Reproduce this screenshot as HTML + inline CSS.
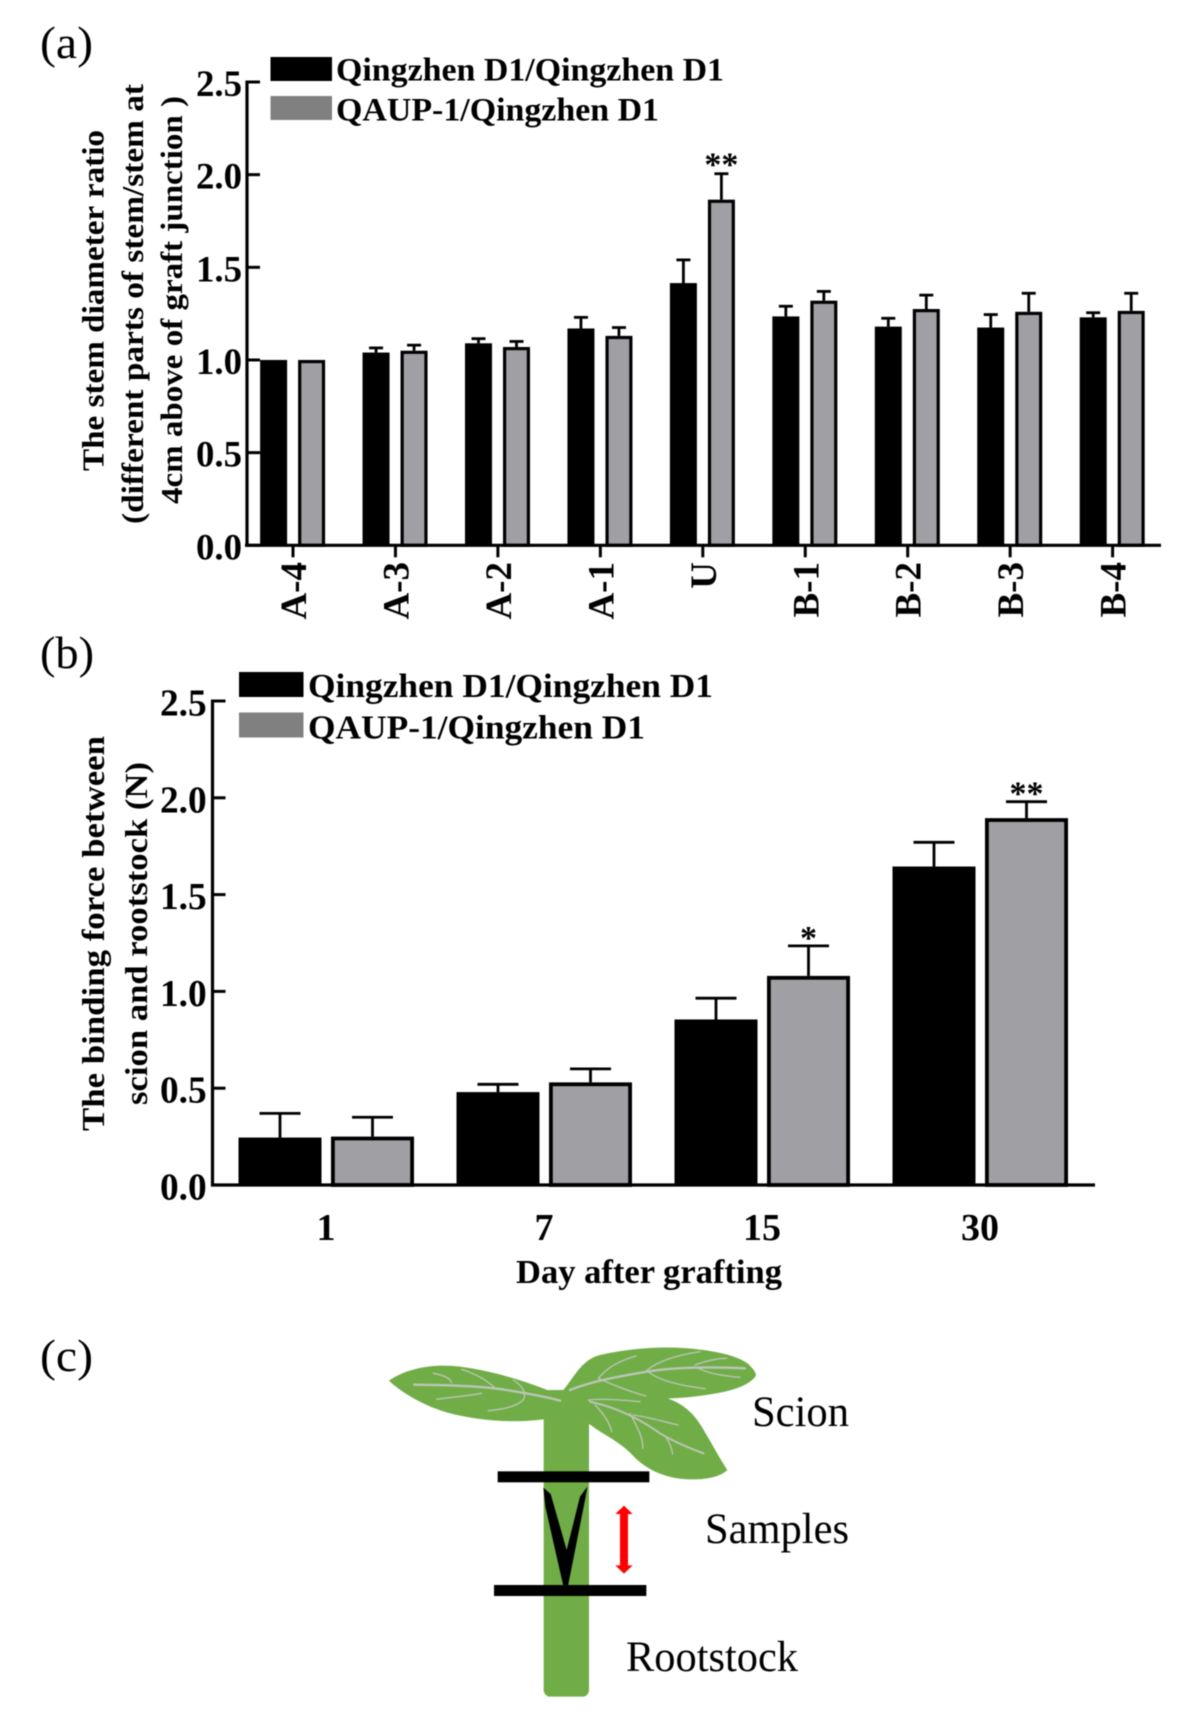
<!DOCTYPE html>
<html lang="en">
<head>
<meta charset="utf-8">
<title>Stem diameter ratio and binding force after grafting</title>
<style>
  html, body { margin: 0; padding: 0; background: #fff; }
  body { width: 1183px; height: 1733px; overflow: hidden; }
  svg { display: block; filter: blur(0.6px); }
  text { font-family: "Liberation Serif", serif; fill: #000; }
  .b { font-weight: bold; }
</style>
</head>
<body>
<svg id="figure" xmlns="http://www.w3.org/2000/svg" width="1183" height="1733" viewBox="0 0 1183 1733">
  <rect x="0" y="0" width="1183" height="1733" fill="#fff"/>

  <g id="panel-a">
    <text x="40" y="58" font-size="46" textLength="53" lengthAdjust="spacingAndGlyphs">(a)</text>
    <rect x="270.5" y="57" width="61.5" height="24" fill="#000"/>
    <rect x="270.5" y="96" width="61.5" height="24" fill="#808080"/>
    <text class="b" x="336" y="80.5" font-size="33" textLength="388" lengthAdjust="spacingAndGlyphs">Qingzhen D1/Qingzhen D1</text>
    <text class="b" x="336" y="120.5" font-size="33" textLength="323" lengthAdjust="spacingAndGlyphs">QAUP-1/Qingzhen D1</text>
    <text class="b" transform="translate(103.5,471) rotate(-90)" font-size="31" textLength="341" lengthAdjust="spacingAndGlyphs">The stem diameter ratio</text>
    <text class="b" transform="translate(143,524) rotate(-90)" font-size="31" textLength="440" lengthAdjust="spacingAndGlyphs">(different parts of stem/stem at</text>
    <text class="b" transform="translate(182,504) rotate(-90)" font-size="31" textLength="408" lengthAdjust="spacingAndGlyphs">4cm above of graft junction )</text>
  </g>

  <g id="panel-b">
    <text x="40" y="668" font-size="46" textLength="54" lengthAdjust="spacingAndGlyphs">(b)</text>
    <rect x="239" y="672" width="64.5" height="25" fill="#000"/>
    <rect x="239" y="712.5" width="64.5" height="25" fill="#808080"/>
    <text class="b" x="308" y="697" font-size="34" textLength="405" lengthAdjust="spacingAndGlyphs">Qingzhen D1/Qingzhen D1</text>
    <text class="b" x="308" y="738.5" font-size="34" textLength="337" lengthAdjust="spacingAndGlyphs">QAUP-1/Qingzhen D1</text>
    <text class="b" transform="translate(104,1131) rotate(-90)" font-size="32" textLength="395" lengthAdjust="spacingAndGlyphs">The binding force between</text>
    <text class="b" transform="translate(147,1105) rotate(-90)" font-size="32" textLength="343" lengthAdjust="spacingAndGlyphs">scion and rootstock (N)</text>
    <text class="b" x="516" y="1283" font-size="34" textLength="266" lengthAdjust="spacingAndGlyphs">Day after grafting</text>
  </g>

  <g id="panel-c">
    <text x="40" y="1371" font-size="46" textLength="53" lengthAdjust="spacingAndGlyphs">(c)</text>
    <g transform="translate(350,1310) scale(0.33333)">
      <path fill="#70ad47" d="M117 212 C170 175 250 160 330 170 C430 183 520 212 600 243 L650 250 L650 320 L580 328 C490 340 380 332 290 307 C220 287 150 245 117 212 Z"/>
      <path fill="#70ad47" d="M640 240 C670 205 695 148 750 135 C850 112 960 106 1060 120 C1120 128 1170 142 1195 162 C1210 178 1222 190 1216 200 C1195 228 1140 245 1080 253 C1000 266 950 266 850 268 L715 275 Z"/>
      <path fill="#70ad47" d="M712 262 C780 252 860 246 925 258 C985 270 1025 300 1055 350 C1085 400 1112 450 1132 480 C1110 502 1060 512 1000 507 C930 500 880 472 840 428 C810 398 770 378 740 358 L712 338 Z"/>
      <rect x="581" y="240" width="136" height="920" rx="20" fill="#70ad47"/>
      <g fill="none" stroke="#bcc6b8" stroke-linecap="round">
        <path stroke-width="7" d="M192 224 C300 225 400 228 470 240 C530 250 590 260 630 272"/>
        <path stroke-width="4" d="M335 178 C390 195 420 220 440 238 M490 210 C520 230 530 250 520 270 C490 295 450 298 415 302 M260 268 C300 262 350 258 395 250 M250 190 C280 195 300 205 305 218"/>
        <path stroke-width="7" d="M660 240 C720 215 800 200 890 185 C970 172 1080 170 1185 175"/>
        <path stroke-width="4" d="M858 138 C800 155 770 175 745 205 C790 225 840 245 888 258 M1050 125 C980 135 920 155 890 182 C930 215 1000 228 1065 236 M1035 165 C1060 155 1100 145 1130 145 M1040 172 C1070 190 1120 198 1170 202"/>
        <path stroke-width="6" d="M720 275 C790 290 860 320 930 370 C970 395 1020 415 1060 430"/>
        <path stroke-width="4" d="M715 270 C760 265 820 270 870 275 M735 285 C760 310 780 340 785 365 M840 310 C860 350 880 380 878 415 M850 315 C890 320 940 335 985 345 M950 385 C960 400 965 415 968 432"/>
      </g>
      <rect x="443" y="484" width="455" height="33" fill="#000"/>
      <rect x="432" y="825" width="457" height="33" fill="#000"/>
      <path fill="#000" d="M580 533 L602 552 L650 720 L690 560 L712 530 L706 565 L654 828 L640 828 L586 590 Z"/>
      <path fill="#ff0000" d="M822 587 L848 612 L834 612 L834 766 L848 766 L822 791 L796 766 L810 766 L810 612 L796 612 Z"/>
    </g>
    <text x="752" y="1426" font-size="43" textLength="97" lengthAdjust="spacingAndGlyphs">Scion</text>
    <text x="705" y="1543" font-size="43" textLength="144" lengthAdjust="spacingAndGlyphs">Samples</text>
    <text x="626" y="1671" font-size="43" textLength="172" lengthAdjust="spacingAndGlyphs">Rootstock</text>
  </g>
</svg>

<script>
// ---- Panel (a) data ----
const aCategories = ['A-4', 'A-3', 'A-2', 'A-1', 'U', 'B-1', 'B-2', 'B-3', 'B-4'];
const aBlack = [1.0, 1.04, 1.09, 1.17, 1.415, 1.235, 1.18, 1.175, 1.23];
const aBlackErr = [0, 0.025, 0.025, 0.06, 0.125, 0.055, 0.045, 0.07, 0.025];
const aGray = [1.0, 1.05, 1.07, 1.13, 1.865, 1.32, 1.275, 1.26, 1.265];
const aGrayErr = [0, 0.03, 0.03, 0.045, 0.14, 0.05, 0.075, 0.10, 0.095];
const aSignificance = ['', '', '', '', '**', '', '', '', ''];
const aTicks = [0, 0.5, 1.0, 1.5, 2.0, 2.5];
const aTickLabels = ['0.0', '0.5', '1.0', '1.5', '2.0', '2.5'];

// ---- Panel (b) data ----
const bCategories = ['1', '7', '15', '30'];
const bBlack = [0.245, 0.48, 0.855, 1.645];
const bBlackErr = [0.125, 0.04, 0.11, 0.125];
const bGray = [0.25, 0.53, 1.08, 1.895];
const bGrayErr = [0.10, 0.07, 0.155, 0.085];
const bSignificance = ['', '', '*', '**'];
const bTicks = [0, 0.5, 1.0, 1.5, 2.0, 2.5];
const bTickLabels = ['0.0', '0.5', '1.0', '1.5', '2.0', '2.5'];

const SVG_NS = 'http://www.w3.org/2000/svg';
const BAR_GRAY = '#a0a0a4';

function make(tag, attrs, parent) {
  const node = document.createElementNS(SVG_NS, tag);
  for (const key in attrs) node.setAttribute(key, attrs[key]);
  parent.appendChild(node);
  return node;
}

// Axis functions
function scaleLinear(domainMax, y0, yMax) {
  return function (v) { return y0 - (v / domainMax) * (y0 - yMax); };
}
const aY = scaleLinear(2.5, 545.3, 82);
const aX = function (i) { return 293 + i * 102.45; };
const bY = scaleLinear(2.5, 1185, 701);
const bX = function (i) { return 326 + i * 218; };

function drawBars(parent, prefix, cats, values, errs, sigs, xFn, yFn, cfg) {
  cats.forEach(function (cat, i) {
    const v = values[i];
    const cx = xFn(i) + cfg.offset;
    const left = cx - cfg.width / 2;
    const top = yFn(v);
    const base = yFn(0);
    if (errs[i] > 0) {
      const errTop = yFn(v + errs[i]);
      const stem = make('line', { x1: cx, x2: cx, y1: top, y2: errTop, stroke: '#000', 'stroke-width': cfg.errW }, parent);
      
      
      const cap = make('line', { x1: cx - cfg.cap / 2, x2: cx + cfg.cap / 2, y1: errTop, y2: errTop, stroke: '#000', 'stroke-width': cfg.errW }, parent);
      
      
    }
    const inset = cfg.stroke / 2;
    const bar = make('rect', {
      x: left + inset, y: top + inset,
      width: cfg.width - cfg.stroke, height: base - top - inset,
      fill: cfg.fill, stroke: '#000', 'stroke-width': cfg.stroke
    }, parent);
    
    
    if (sigs[i]) {
      const star = make('text', {
        x: cx, y: yFn(v + errs[i]) - cfg.starGap,
        'text-anchor': 'middle', 'font-size': cfg.starSize, 'font-weight': 'bold'
      }, parent);
      star.textContent = sigs[i];
      
      
    }
  });
}

function drawYAxis(parent, prefix, ticks, labels, yFn, cfg) {
  const axis = make('line', { x1: cfg.x, x2: cfg.x, y1: yFn(2.5) - 1.5, y2: yFn(0) + 1.5, stroke: '#000', 'stroke-width': 3.2 }, parent);
  
  
  ticks.forEach(function (t, i) {
    const tick = make('line', { x1: cfg.x, x2: cfg.x + 13, y1: yFn(t), y2: yFn(t), stroke: '#000', 'stroke-width': 3 }, parent);
    
    
    const label = make('text', {
      x: cfg.labelX, y: yFn(t) + cfg.labelDy, 'font-size': cfg.fontSize,
      textLength: cfg.labelW, lengthAdjust: 'spacingAndGlyphs', class: 'b'
    }, parent);
    label.textContent = labels[i];
    
    
  });
}

// Panel (a)
const panelA = document.getElementById('panel-a');
const aBarCfg = { width: 27, cap: 14, errW: 2.8, starGap: -2, starSize: 34 };
drawBars(panelA, 'a-black', aCategories, aBlack, aBlackErr, aCategories.map(function () { return ''; }), aX, aY,
  Object.assign({}, aBarCfg, { offset: -19.4, fill: '#000', stroke: 1 }));
drawBars(panelA, 'a-gray', aCategories, aGray, aGrayErr, aSignificance, aX, aY,
  Object.assign({}, aBarCfg, { offset: 18.6, fill: BAR_GRAY, stroke: 3.2 }));
drawYAxis(panelA, 'a', aTicks, aTickLabels, aY, { x: 247, labelX: 196, labelDy: 14, labelW: 46, fontSize: 37 });

const aXAxis = make('line', { x1: 245, x2: 1161, y1: aY(0), y2: aY(0), stroke: '#000', 'stroke-width': 3.2 }, panelA);



aCategories.forEach(function (cat, i) {
  const tick = make('line', { x1: aX(i), x2: aX(i), y1: aY(0), y2: aY(0) + 12, stroke: '#000', 'stroke-width': 3 }, panelA);
  
  
  const label = make('text', {
    transform: 'translate(' + (aX(i) + 13) + ',562) rotate(-90)',
    'text-anchor': 'end', 'font-size': 37, class: 'b'
  }, panelA);
  label.textContent = cat;
  
  
});

// Panel (b)
const panelB = document.getElementById('panel-b');
const bBarCfg = { width: 83, cap: 41, errW: 2.8, starGap: -3, starSize: 34 };
drawBars(panelB, 'b-black', bCategories, bBlack, bBlackErr, bCategories.map(function () { return ''; }), bX, bY,
  Object.assign({}, bBarCfg, { offset: -46, fill: '#000', stroke: 1 }));
drawBars(panelB, 'b-gray', bCategories, bGray, bGrayErr, bSignificance, bX, bY,
  Object.assign({}, bBarCfg, { offset: 46.5, fill: BAR_GRAY, stroke: 3.8 }));
drawYAxis(panelB, 'b', bTicks, bTickLabels, bY, { x: 212.5, labelX: 160, labelDy: 14.5, labelW: 46.7, fontSize: 38 });

const bXAxis = make('line', { x1: 211, x2: 1095, y1: bY(0), y2: bY(0), stroke: '#000', 'stroke-width': 3.2 }, panelB);



bCategories.forEach(function (cat, i) {
  const label = make('text', {
    x: bX(i), y: 1240, 'text-anchor': 'middle', 'font-size': 38, class: 'b'
  }, panelB);
  label.textContent = cat;
  
  
});
</script>
</body>
</html>
